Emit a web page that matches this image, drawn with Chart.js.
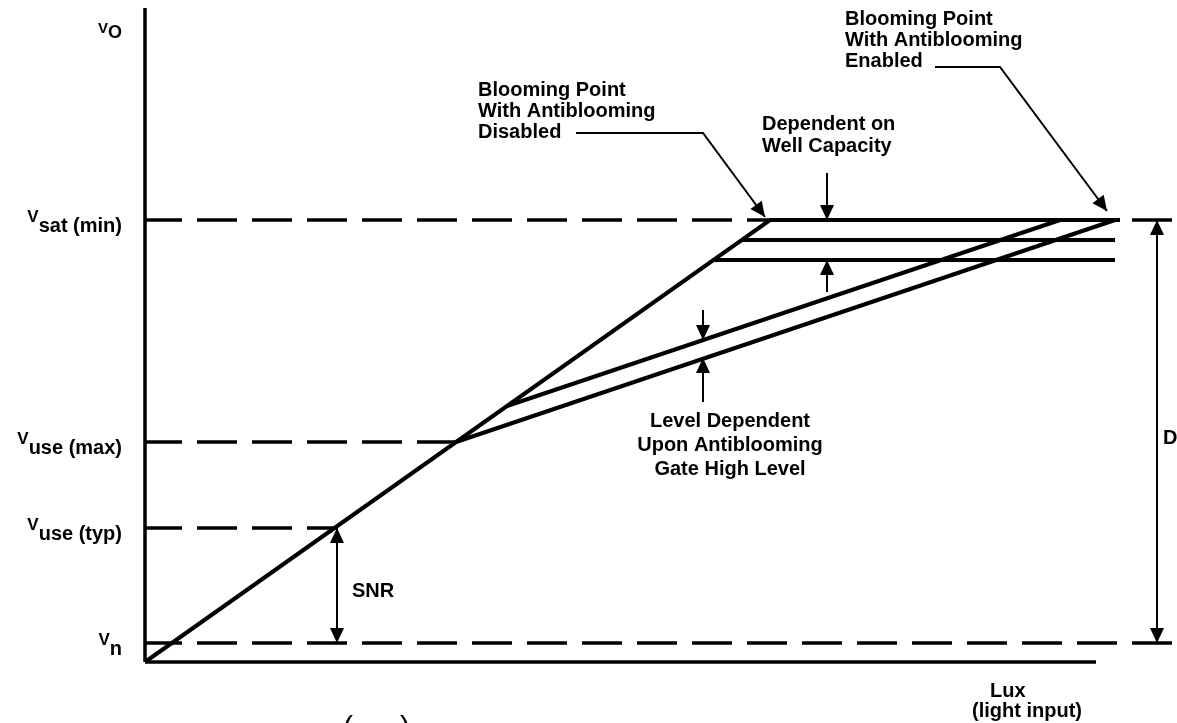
<!DOCTYPE html>
<html>
<head>
<meta charset="utf-8">
<script src="https://cdn.jsdelivr.net/npm/chart.js@4.4.1/dist/chart.umd.min.js"></script>
<style>
html, body { margin:0; padding:0; background:#fff; }
#wrap { width:1177px; height:723px; }
</style>
</head>
<body>
<div id="wrap"><canvas id="ccdCanvas" width="1177" height="723"></canvas></div>
<script>
// output levels (vertical units, 0 = x axis)
var levelNames = ['sat (min)', 'use (max)', 'use (typ)', 'n'];
var levelValues = [44.2, 22.0, 13.4, 1.9];
var levelEnds = [103.2, 31.1, 19.2, 103.2];

// sensor response, lux in arbitrary units
var respLux = [0, 62.5, 97.5];
var respV = [0, 44.2, 44.2];
// well capacity levels
var wellV = [42.2, 40.2];
var wellFrom = [59.7, 56.9];
var wellTo = [97.0, 97.0];
// antiblooming branches
var abLowLux = [31.1, 97.0];
var abLowV = [22.0, 44.2];
var abHighLux = [36.2, 91.5];
var abHighV = [25.6, 44.2];
// axes extent
var axisLuxMax = 95.1;
var axisVMax = 65.4;

// arrows: [x1, y1, x2, y2, both ends]
var arrows = [
    [68.2, 48.9, 68.2, 44.2, false],
    [68.2, 37.0, 68.2, 40.2, false],
    [55.8, 35.2, 55.8, 32.2, false],
    [55.8, 26.0, 55.8, 30.4, false],
    [19.2, 1.9, 19.2, 13.4, true],
    [101.2, 1.9, 101.2, 44.2, true]
];
// leader lines
var leaders = [
    [[43.1, 52.9], [55.8, 52.9], [62.0, 44.5]],
    [[79.0, 59.5], [85.5, 59.5], [96.2, 45.1]]
];

var notes = [
    {t: 'Blooming Point', x: 33.3, y: 56.6, align: 'left'},
    {t: 'With Antiblooming', x: 33.3, y: 54.5, align: 'left'},
    {t: 'Disabled', x: 33.3, y: 52.4, align: 'left'},
    {t: 'Dependent on', x: 61.7, y: 53.2, align: 'left'},
    {t: 'Well Capacity', x: 61.7, y: 51.0, align: 'left'},
    {t: 'Blooming Point', x: 70.0, y: 63.7, align: 'left'},
    {t: 'With Antiblooming', x: 70.0, y: 61.6, align: 'left'},
    {t: 'Enabled', x: 70.0, y: 59.5, align: 'left'},
    {t: 'Level Dependent', x: 58.5, y: 23.5, align: 'center'},
    {t: 'Upon Antiblooming', x: 58.5, y: 21.1, align: 'center'},
    {t: 'Gate High Level', x: 58.5, y: 18.7, align: 'center'},
    {t: 'SNR', x: 20.7, y: 6.5, align: 'left'},
    {t: 'DR', x: 101.8, y: 21.8, align: 'left'},
    {t: 'Lux', x: 84.5, y: -3.5, align: 'left'},
    {t: '(light input)', x: 93.7, y: -5.5, align: 'right'}
];

function pts(xs, ys) {
    return xs.map(function(x, i){ return {x: x, y: ys[i]}; });
}

var datasets = [];
function addLine(data, width, dash) {
    datasets.push({
        data: data,
        borderColor: '#000',
        borderWidth: width,
        borderDash: dash || [],
        borderDashOffset: dash ? 3 : 0,
        pointRadius: 0,
        tension: 0,
        fill: false,
        clip: false,
        showLine: true
    });
}

// dashed reference levels
for (var i = 0; i < levelValues.length; i++) {
    addLine(pts([0, levelEnds[i]], [levelValues[i], levelValues[i]]), 3.5, [40, 15]);
}
// axes
addLine(pts([0, 0], [axisVMax, 0]), 3.5);
addLine(pts([0, axisLuxMax], [0, 0]), 3.5);
// response curves
addLine(pts(respLux, respV), 4);
for (var j = 0; j < wellV.length; j++) {
    addLine(pts([wellFrom[j], wellTo[j]], [wellV[j], wellV[j]]), 4);
}
addLine(pts(abLowLux, abLowV), 4);
addLine(pts(abHighLux, abHighV), 4);

function head(ctx, x1, y1, x2, y2) {
    var a = Math.atan2(y2 - y1, x2 - x1);
    var len = 15, hw = 7;
    ctx.beginPath();
    ctx.moveTo(x2, y2);
    ctx.lineTo(x2 - len * Math.cos(a) + hw * Math.sin(a), y2 - len * Math.sin(a) - hw * Math.cos(a));
    ctx.lineTo(x2 - len * Math.cos(a) - hw * Math.sin(a), y2 - len * Math.sin(a) + hw * Math.cos(a));
    ctx.closePath();
    ctx.fill();
}

var notesPlugin = {
    id: 'notes',
    afterDatasetsDraw: function(chart) {
        var ctx = chart.ctx;
        var sx = chart.scales.x, sy = chart.scales.y;
        var px = function(v){ return sx.getPixelForValue(v); };
        var py = function(v){ return sy.getPixelForValue(v); };
        ctx.save();
        ctx.fillStyle = '#000';
        ctx.strokeStyle = '#000';
        ctx.lineWidth = 2;

        arrows.forEach(function(a){
            var x1 = px(a[0]), y1 = py(a[1]), x2 = px(a[2]), y2 = py(a[3]);
            ctx.beginPath();
            ctx.moveTo(x1, y1);
            ctx.lineTo(x2, y2);
            ctx.stroke();
            head(ctx, x1, y1, x2, y2);
            if (a[4]) head(ctx, x2, y2, x1, y1);
        });

        leaders.forEach(function(l){
            ctx.beginPath();
            l.forEach(function(p, k){
                if (k == 0) ctx.moveTo(px(p[0]), py(p[1]));
                else ctx.lineTo(px(p[0]), py(p[1]));
            });
            ctx.stroke();
            var p1 = l[l.length - 2], p2 = l[l.length - 1];
            head(ctx, px(p1[0]), py(p1[1]), px(p2[0]), py(p2[1]));
        });

        ctx.textBaseline = 'alphabetic';
        ctx.font = 'bold 20px "Liberation Sans", Arial, sans-serif';
        notes.forEach(function(n){
            ctx.textAlign = n.align;
            ctx.fillText(n.t, px(n.x), py(n.y));
        });

        // level labels V with subscript, right aligned
        var right = px(-2.3);
        function vLabel(sub, base, vSize, sSize, drop) {
            ctx.textAlign = 'right';
            ctx.font = 'bold ' + sSize + 'px "Liberation Sans", Arial, sans-serif';
            var w = ctx.measureText(sub).width;
            ctx.fillText(sub, right, base + drop);
            ctx.font = 'bold ' + vSize + 'px "Liberation Sans", Arial, sans-serif';
            ctx.fillText('V', right - w, base);
        }
        for (var i = 0; i < levelNames.length; i++) {
            vLabel(levelNames[i], py(levelValues[i]) + 2, 17, 20, 10);
        }
        vLabel('O', py(62.9), 15, 18, 5);

        // clipped bracket at the bottom edge
        ctx.font = '30px "Liberation Sans", Arial, sans-serif';
        ctx.textAlign = 'left';
        ctx.fillText('(', px(19.8), py(-7.5));
        ctx.fillText(')', px(25.5), py(-7.5));
        ctx.restore();
    }
};

var ctx = document.getElementById('ccdCanvas').getContext('2d');
var chart = new Chart(ctx, {
    type: 'scatter',
    data: { datasets: datasets },
    options: {
        responsive: false,
        animation: false,
        events: [],
        layout: { padding: { left: 145, right: 0, top: 0, bottom: 61 } },
        scales: {
            x: { type: 'linear', display: false, min: 0, max: 103.2 },
            y: { type: 'linear', display: false, min: 0, max: 66.2 }
        },
        plugins: {
            legend: { display: false },
            tooltip: { enabled: false }
        }
    },
    plugins: [notesPlugin]
});
</script>
</body>
</html>
